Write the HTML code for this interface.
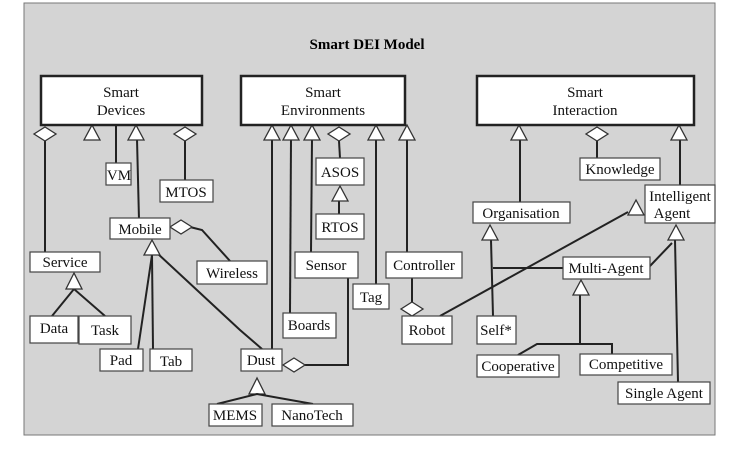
<!DOCTYPE html>
<html><head><style>
body{margin:0;background:#fff;width:729px;height:459px;overflow:hidden}
svg{font-family:"Liberation Serif",serif}
</style></head><body>
<svg width="729" height="459" viewBox="0 0 729 459">
<rect x="24" y="3" width="691" height="432" fill="#d4d4d4" stroke="#777" stroke-width="1"/>
<text x="367" y="49" font-size="15" font-weight="bold" text-anchor="middle">Smart DEI Model</text>
<g stroke="#222" stroke-width="2" fill="none">
<line x1="45" y1="141" x2="45" y2="252"/>
<line x1="116" y1="125" x2="116" y2="163"/>
<line x1="137" y1="139" x2="139" y2="220"/>
<line x1="185" y1="141" x2="185" y2="180"/>
<polyline points="190,227 202,230 230,261"/>
<line x1="152" y1="255" x2="138" y2="349"/>
<line x1="152" y1="255" x2="153" y2="349"/>
<polyline points="157,253 240,330 262,349"/>
<polyline points="52,316 74,289 105,316"/>
<line x1="272" y1="139" x2="272" y2="349"/>
<line x1="291" y1="139" x2="290" y2="313"/>
<line x1="312" y1="139" x2="311" y2="252"/>
<line x1="339" y1="141" x2="340" y2="158"/>
<line x1="339" y1="200" x2="339" y2="214"/>
<line x1="376" y1="139" x2="376" y2="284"/>
<line x1="407" y1="139" x2="407" y2="252"/>
<polyline points="348,278 348,365 305,365"/>
<line x1="412" y1="278" x2="412" y2="302"/>
<line x1="440" y1="316" x2="628" y2="212"/>
<line x1="520" y1="139" x2="520" y2="202"/>
<line x1="597" y1="141" x2="597" y2="158"/>
<line x1="680" y1="139" x2="680" y2="185"/>
<line x1="491" y1="240" x2="493" y2="316"/>
<line x1="493" y1="268" x2="563" y2="268"/>
<polyline points="650,266 672,243"/>
<line x1="675" y1="240" x2="678" y2="382"/>
<line x1="580" y1="295" x2="580" y2="344"/>
<polyline points="518,355 537,344 612,344 612,355"/>
</g>
<g fill="#fff" stroke="#333" stroke-width="1.3">
<!-- triangles -->
<polygon points="92,125 84,140 100,140"/>
<polygon points="136,125 128,140 144,140"/>
<polygon points="152,240 144,255 160,255"/>
<polygon points="74,273 66,289 82,289"/>
<polygon points="272,125 264,140 280,140"/>
<polygon points="291,125 283,140 299,140"/>
<polygon points="312,125 304,140 320,140"/>
<polygon points="340,186 332,201 348,201"/>
<polygon points="376,125 368,140 384,140"/>
<polygon points="407,125 399,140 415,140"/>
<polygon points="519,125 511,140 527,140"/>
<polygon points="679,125 671,140 687,140"/>
<polygon points="636,200 628,215 644,215"/>
<polygon points="490,225 482,240 498,240"/>
<polygon points="676,225 668,240 684,240"/>
<polygon points="581,280 573,295 589,295"/>
<polygon points="257,378 249,394 265,394"/>
<!-- diamonds -->
<polygon points="45,127 56,134 45,141 34,134"/>
<polygon points="185,127 196,134 185,141 174,134"/>
<polygon points="339,127 350,134 339,141 328,134"/>
<polygon points="597,127 608,134 597,141 586,134"/>
<polygon points="181,220 192,227 181,234 170,227"/>
<polygon points="294,358 305,365 294,372 283,365"/>
<polygon points="412,302 423,309 412,316 401,309"/>
</g>
<polyline points="217,404 257,394 313,404" stroke="#222" stroke-width="2" fill="none"/>
<g fill="#fff" stroke="#222" stroke-width="2.5">
<rect x="41" y="76" width="161" height="49"/>
<rect x="241" y="76" width="164" height="49"/>
<rect x="477" y="76" width="217" height="49"/>
</g>
<g fill="#fff" stroke="#444" stroke-width="1.2">
<rect x="106" y="163" width="25" height="22"/>
<rect x="160" y="180" width="53" height="22"/>
<rect x="110" y="218" width="60" height="21"/>
<rect x="30" y="252" width="70" height="20"/>
<rect x="197" y="261" width="70" height="23"/>
<rect x="30" y="316" width="48" height="27"/>
<rect x="79" y="316" width="52" height="28"/>
<rect x="100" y="349" width="43" height="22"/>
<rect x="150" y="349" width="42" height="22"/>
<rect x="241" y="349" width="41" height="22"/>
<rect x="209" y="404" width="53" height="22"/>
<rect x="272" y="404" width="81" height="22"/>
<rect x="316" y="158" width="48" height="27"/>
<rect x="316" y="214" width="48" height="25"/>
<rect x="295" y="252" width="63" height="26"/>
<rect x="353" y="284" width="36" height="25"/>
<rect x="283" y="313" width="53" height="25"/>
<rect x="386" y="252" width="76" height="26"/>
<rect x="402" y="316" width="50" height="28"/>
<rect x="473" y="202" width="97" height="21"/>
<rect x="580" y="158" width="80" height="22"/>
<rect x="645" y="185" width="70" height="38"/>
<rect x="563" y="257" width="87" height="22"/>
<rect x="477" y="316" width="39" height="28"/>
<rect x="477" y="355" width="82" height="22"/>
<rect x="580" y="354" width="92" height="21"/>
<rect x="618" y="382" width="92" height="22"/>
</g>
<g font-size="15" text-anchor="middle" fill="#111">
<text x="121" y="97">Smart</text><text x="121" y="115">Devices</text>
<text x="323" y="97">Smart</text><text x="323" y="115">Environments</text>
<text x="585" y="97">Smart</text><text x="585" y="115">Interaction</text>
<text x="119" y="180">VM</text>
<text x="186" y="197">MTOS</text>
<text x="140" y="234">Mobile</text>
<text x="65" y="267">Service</text>
<text x="232" y="278">Wireless</text>
<text x="54" y="333">Data</text>
<text x="105" y="335">Task</text>
<text x="121" y="365">Pad</text>
<text x="171" y="366">Tab</text>
<text x="261" y="365">Dust</text>
<text x="235" y="420">MEMS</text>
<text x="312" y="420">NanoTech</text>
<text x="340" y="177">ASOS</text>
<text x="340" y="232">RTOS</text>
<text x="326" y="270">Sensor</text>
<text x="371" y="302">Tag</text>
<text x="309" y="330">Boards</text>
<text x="424" y="270">Controller</text>
<text x="427" y="335">Robot</text>
<text x="521" y="218">Organisation</text>
<text x="620" y="174">Knowledge</text>
<text x="680" y="201">Intelligent</text><text x="672" y="218">Agent</text>
<text x="606" y="273">Multi-Agent</text>
<text x="496" y="335">Self*</text>
<text x="518" y="371">Cooperative</text>
<text x="626" y="369">Competitive</text>
<text x="664" y="398">Single Agent</text>
</g>
</svg>
</body></html>
